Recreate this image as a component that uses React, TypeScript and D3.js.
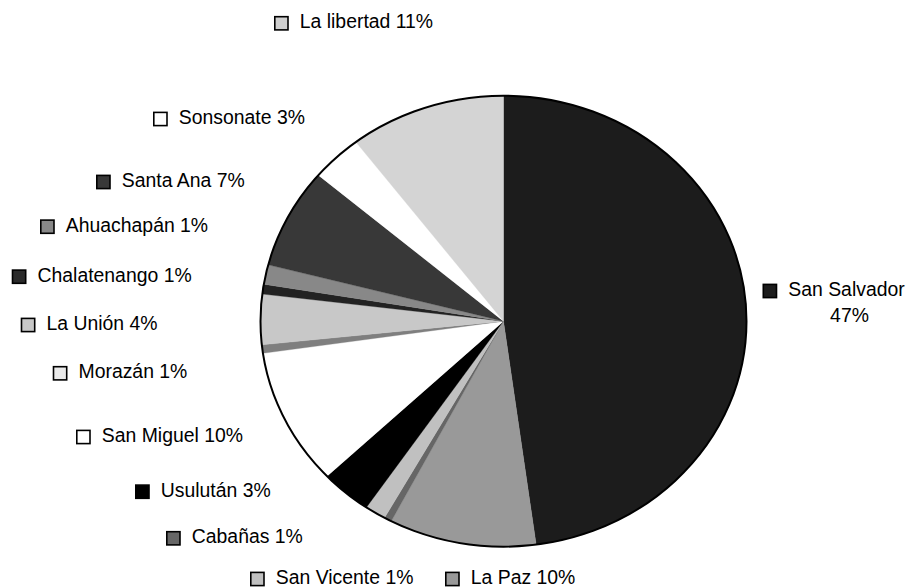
import React from "react";
import * as d3 from "d3";

// Departments in clockwise order from 12 o'clock
const departments = [
  "San Salvador",
  "La Paz",
  "Cabañas",
  "San Vicente",
  "Usulután",
  "San Miguel",
  "Morazán",
  "La Unión",
  "Chalatenango",
  "Ahuachapán",
  "Santa Ana",
  "Sonsonate",
  "La libertad",
];

// Slice shares (percent)
const shares = [47.9, 9.8, 0.5, 1.4, 3.4, 9.8, 0.6, 3.6, 0.7, 1.4, 7.2, 3.4, 10.4];

// Percent labels as printed
const pctLabels = ["47%", "10%", "1%", "1%", "3%", "10%", "1%", "4%", "1%", "1%", "7%", "3%", "11%"];

// Styles
const sliceColors = [
  "#1c1c1c", "#999999", "#666666", "#c0c0c0", "#000000", "#ffffff", "#7f7f7f",
  "#c8c8c8", "#222222", "#888888", "#383838", "#ffffff", "#d4d4d4",
];
const markerColors = [
  "#1c1c1c", "#999999", "#666666", "#c0c0c0", "#000000", "#ffffff", "#eaeaea",
  "#c8c8c8", "#2a2a2a", "#888888", "#383838", "#ffffff", "#d0d0d0",
];

// Label layout: marker left x, text baseline y
const labelLayout: { mx: number; by: number; twoLine?: boolean }[] = [
  { mx: 762.5, by: 296, twoLine: true },
  { mx: 445, by: 584 },
  { mx: 166, by: 543.3 },
  { mx: 250, by: 584 },
  { mx: 135, by: 496.7 },
  { mx: 76, by: 442 },
  { mx: 52.7, by: 378.3 },
  { mx: 20.7, by: 330 },
  { mx: 11.7, by: 281.7 },
  { mx: 40, by: 231.7 },
  { mx: 96, by: 187 },
  { mx: 153, by: 124 },
  { mx: 274, by: 28.3 },
];

const W = 909;
const H = 587;
const CX = 503.5;
const CY = 321.2;
const RX = 243;
const RY = 225.5;
const FONT = "'Liberation Sans', Arial, Helvetica, sans-serif";
const FS = 19.4;

export default function App() {
  const pie = d3
    .pie<number>()
    .sort(null)
    .value((d) => d)
    .startAngle(0)
    .endAngle(2 * Math.PI);
  const arcs = pie(shares);
  const arc = d3.arc<d3.PieArcDatum<number>>().innerRadius(0).outerRadius(RY);

  return (
    <svg
      width={W}
      height={H}
      viewBox={`0 0 ${W} ${H}`}
      style={{ position: "absolute", left: 0, top: 0, background: "#fff" }}
    >
      <rect x={0} y={0} width={W} height={H} fill="#fff" />
      <g transform={`translate(${CX},${CY}) scale(${RX / RY},1)`}>
        {arcs.map((a, i) => (
          <path key={i} d={arc(a) || ""} fill={sliceColors[i]} stroke={sliceColors[i]} strokeWidth={0.3} />
        ))}
      </g>
      <ellipse cx={CX} cy={CY} rx={RX} ry={RY} fill="none" stroke="#000" strokeWidth={2} />
      <g fontFamily={FONT} fontSize={FS} fill="#000">
        {departments.map((name, i) => {
          const L = labelLayout[i];
          const tx = L.mx + 25.8;
          return (
            <g key={name}>
              <rect
                x={L.mx + 0.8}
                y={L.by - 11.6}
                width={13.2}
                height={13.2}
                fill={markerColors[i]}
                stroke="#000"
                strokeWidth={1.6}
              />
              {L.twoLine ? (
                <>
                  <text x={tx} y={L.by}>{name}</text>
                  <text x={849.5} y={L.by + 25.7} textAnchor="middle">{pctLabels[i]}</text>
                </>
              ) : (
                <text x={tx} y={L.by}>{`${name} ${pctLabels[i]}`}</text>
              )}
            </g>
          );
        })}
      </g>
    </svg>
  );
}
